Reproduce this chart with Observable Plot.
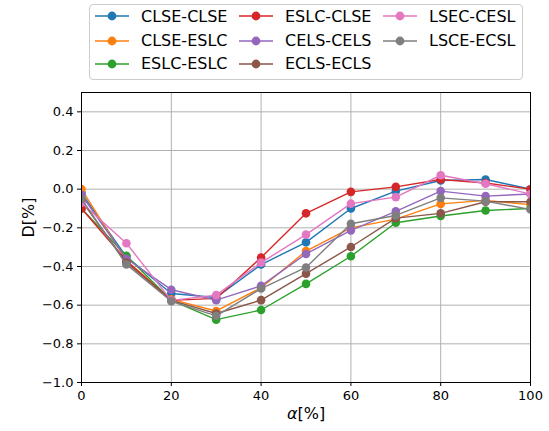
<!DOCTYPE html>
<html>
<head>
<meta charset="utf-8">
<script src="https://cdn.jsdelivr.net/npm/d3@7"></script>
<script src="https://cdn.jsdelivr.net/npm/@observablehq/plot@0.6"></script>
<style>
  body { margin: 0; background: #fff; font-family: "DejaVu Sans", sans-serif; }
  #wrap { position: relative; width: 549px; height: 431px; }
  #legend { position: relative; width: 549px; height: 86px; }
  .box { position: absolute; left: 89px; top: 4px; width: 434px; height: 76px; border: 1px solid #cccccc; border-radius: 4px; box-sizing: border-box; }
  .item { position: absolute; height: 20px; display: flex; align-items: center; font-size: 16px; color: #000; white-space: nowrap; }
  .item svg { margin-right: 12px; }
</style>
</head>
<body>
<div id="wrap">
  <div id="legend"><div class="box"></div></div>
  <div id="chart"></div>
</div>
<script>
const alpha = [0, 10, 20, 30, 40, 50, 60, 70, 80, 90, 100];
const seriesNames = ["CLSE-CLSE", "CLSE-ESLC", "ESLC-ESLC", "ESLC-CLSE", "CELS-CELS", "ECLS-ECLS", "LSEC-CESL", "LSCE-ECSL"];
const seriesColors = ["#1f77b4", "#ff7f0e", "#2ca02c", "#d62728", "#9467bd", "#8c564b", "#e377c2", "#7f7f7f"];

const clseClse = [-0.02, -0.35, -0.54, -0.56, -0.39, -0.275, -0.10, -0.01, 0.045, 0.05, 0.0];
const clseEslc = [0.0, -0.37, -0.57, -0.63, -0.51, -0.32, -0.20, -0.155, -0.076, -0.058, -0.08];
const eslcEslc = [-0.10, -0.345, -0.575, -0.675, -0.625, -0.49, -0.347, -0.174, -0.139, -0.11, -0.10];
const eslcClse = [-0.10, -0.37, -0.575, -0.565, -0.354, -0.125, -0.014, 0.012, 0.05, 0.032, 0.0];
const celsCels = [-0.03, -0.36, -0.52, -0.574, -0.50, -0.335, -0.213, -0.115, -0.01, -0.036, -0.025];
const eclsEcls = [-0.06, -0.38, -0.575, -0.643, -0.574, -0.437, -0.299, -0.15, -0.125, -0.065, -0.065];
const lsecCesl = [-0.07, -0.28, -0.575, -0.548, -0.38, -0.235, -0.075, -0.041, 0.072, 0.028, -0.025];
const lsceEcsl = [-0.05, -0.39, -0.58, -0.655, -0.514, -0.405, -0.179, -0.136, -0.045, -0.062, -0.105];

const seriesValues = [clseClse, clseEslc, eslcEslc, eslcClse, celsCels, eclsEcls, lsecCesl, lsceEcsl];
const xTicks = [0, 20, 40, 60, 80, 100];
const yTicks = [-1.0, -0.8, -0.6, -0.4, -0.2, 0.0, 0.2, 0.4];

// Legend (3 columns, column-major like matplotlib)
const legend = document.getElementById("legend");
const colX = [95, 239, 383];
const rowY = [16, 40.5, 63.5];
seriesNames.forEach((name, i) => {
  const col = Math.floor(i / 3), row = i % 3;
  const div = document.createElement("div");
  div.className = "item";
  div.style.left = colX[col] + "px";
  div.style.top = (rowY[row] - 10) + "px";
  div.innerHTML = `<svg width="34" height="20"><line x1="0" y1="10" x2="34" y2="10" stroke="${seriesColors[i]}" stroke-width="1.5"/><circle cx="17" cy="10" r="4.4" fill="${seriesColors[i]}"/></svg><span>${name}</span>`;
  legend.appendChild(div);
});

const marks = [
  Plot.gridX(xTicks, {stroke: "#b0b0b0", strokeOpacity: 1, strokeWidth: 1}),
  Plot.gridY(yTicks, {stroke: "#b0b0b0", strokeOpacity: 1, strokeWidth: 1})
];
seriesNames.forEach((name, i) => {
  const rows = alpha.map((a, j) => ({alpha: a, D: seriesValues[i][j], series: name}));
  marks.push(Plot.line(rows, {x: "alpha", y: "D", stroke: "series", strokeWidth: 1.4, clip: true}));
  marks.push(Plot.dot(rows, {x: "alpha", y: "D", fill: "series", r: 4.3, clip: true}));
});
marks.push(
  Plot.axisX(xTicks, {tickSize: 4, tickPadding: 4, fontSize: 13, label: null, stroke: "black", fill: "black"}),
  Plot.axisY(yTicks, {tickSize: 4, tickPadding: 4, fontSize: 13, label: null, tickFormat: d3.format(".1f"), stroke: "black", fill: "black"}),
  Plot.frame({stroke: "black", strokeWidth: 1}),
  Plot.text(["D[%]"], {frameAnchor: "left", dx: -53, rotate: -90, fontSize: 16, fill: "black"}),
  Plot.text(["α[%]"], {frameAnchor: "bottom", dy: 36, fontSize: 16, fill: "black"})
);

const chart = Plot.plot({
  width: 549,
  height: 345,
  marginTop: 6,
  marginBottom: 49,
  marginLeft: 81,
  marginRight: 19,
  style: {fontFamily: "DejaVu Sans, sans-serif", color: "black", background: "white"},
  x: {domain: [0, 100]},
  y: {domain: [-1, 0.5]},
  color: {domain: seriesNames, range: seriesColors},
  marks
});
document.getElementById("chart").appendChild(chart);

// Italic alpha like matplotlib mathtext
chart.querySelectorAll("text").forEach(t => {
  if (t.textContent === "α[%]") {
    t.innerHTML = '<tspan font-style="italic">α</tspan>[%]';
  }
});
</script>
</body>
</html>
